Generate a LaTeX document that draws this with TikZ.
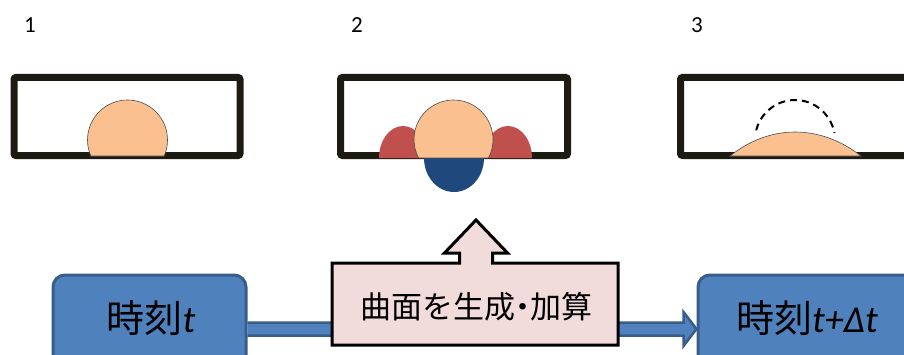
\documentclass[tikz,border=0pt]{standalone}
\usepackage{fontspec}
\setmainfont{Carlito}
\newfontfamily\jp{Noto Sans CJK JP}
\usetikzlibrary{calc}
\definecolor{peach}{HTML}{FAC090}
\definecolor{redc}{HTML}{C0504D}
\definecolor{bluec}{HTML}{1F497D}
\definecolor{boxfill}{HTML}{4F81BD}
\definecolor{boxedge}{HTML}{385D8A}
\definecolor{pinkc}{HTML}{F2DCDB}
\definecolor{framec}{HTML}{1D1B11}
\tikzset{
  frame/.style={draw=framec, line width=7pt, rounded corners=2pt},
  drop/.style={fill=peach, draw=black!70, line width=0.6pt},
  numlabel/.style={font=\fontsize{23}{23}\selectfont, inner sep=0pt},
  timebox/.style={draw=boxedge, fill=boxfill, line width=3pt, rounded corners=12pt, inner sep=0pt},
  timetext/.style={font=\fontsize{38}{38}\selectfont, inner sep=0pt},
}
\begin{document}
\begin{tikzpicture}[x=1pt,y=1pt]
\useasboundingbox (0,0) rectangle (904,354);
\clip (0,0) rectangle (904,354);
% labels
\node[numlabel] (n1) at (30,328.5) {1};
\node[numlabel] (n2) at (357,328.5) {2};
\node[numlabel] (n3) at (697,328.5) {3};
% frames
\draw[frame] (14,276.5) rectangle (240,198.5);
\draw[frame] (340.5,276.5) rectangle (567.5,198.5);
\draw[frame] (680.5,276.5) rectangle (930,198.5);
% panel 1
\draw[drop] ($(127.5,214)+(-23.6:40)$) arc[start angle=-23.6, end angle=203.6, radius=40] -- cycle;
% panel 2
\fill[redc] (379,196) arc[start angle=180, end angle=0, x radius=24, y radius=32] -- cycle;
\fill[redc] (484,196) arc[start angle=180, end angle=0, x radius=24, y radius=32] -- cycle;
\fill[bluec] (424,196) arc[start angle=180, end angle=360, x radius=30, y radius=34] -- cycle;
\draw[drop] ($(453.5,214.5)+(-27.9:39.5)$) arc[start angle=-27.9, end angle=207.9, radius=39.5] -- cycle;
% panel 3
\draw[drop] (730,198) .. controls (770,230) and (820,230) .. (861,198) -- cycle;
\draw[line width=2pt, dash pattern=on 7pt off 5pt] ($(795,214)+(166:40)$) arc[start angle=166, end angle=10, radius=40];
% bottom boxes
\node[timebox, minimum width=193pt, minimum height=99pt] (tA) at (149.5,29.5) {};
\node[timetext] (tAt) at (151,36) {{\jp 時刻}\textit{t}};
\node[timebox, minimum width=227pt, minimum height=99pt] (tB) at (811.5,29.5) {};
\node[timetext] (tBt) at (807,36) {{\jp 時刻}\textit{t+Δt}};
% block arrow
\coordinate (as) at ($(tA.east)+(0,-4.5)$);
\coordinate (ae) at ($(tB.west)+(0,-4.5)$);
\draw[draw=boxedge, fill=boxfill, line width=2.5pt, line join=miter]
  ($(as)+(0,6.5)$) -- ($(ae)+(-13,6.5)$) -- ($(ae)+(-13,17)$) -- (ae)
  -- ($(ae)+(-13,-17)$) -- ($(ae)+(-13,-6.5)$) -- ($(as)+(0,-6.5)$);
% callout
\draw[fill=pinkc, draw=black, line width=3pt, line join=miter]
  (332,9) -- (332,91) -- (459.5,91) -- (459.5,101) -- (444.5,101) -- (476,134)
  -- (507.5,101) -- (492.5,101) -- (492.5,91) -- (618,91) -- (618,9) -- cycle;
\node[font=\jp\fontsize{31}{31}\selectfont, inner sep=0pt] (gen) at (476,47) {曲面を生成\kern-8pt・\kern-8pt加算};
\end{tikzpicture}
\end{document}
